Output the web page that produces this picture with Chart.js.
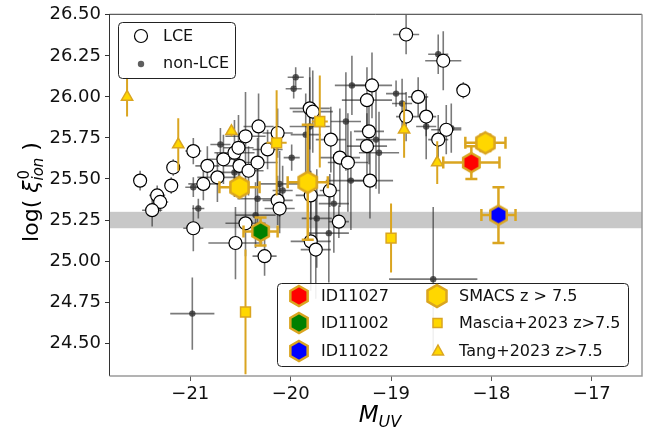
<!DOCTYPE html>
<html>
<head>
<meta charset="utf-8">
<script src="https://cdn.jsdelivr.net/npm/chart.js@4.4.1/dist/chart.umd.min.js"></script>
<style>
  html, body { margin: 0; padding: 0; background: #fff; }
  canvas { display: block; }
</style>
</head>
<body>
<canvas id="chart" width="660" height="428"></canvas>
<script>
// axis ticks
const xTicks = [-21, -20, -19, -18, -17];
const yTicks = [24.5, 24.75, 25.0, 25.25, 25.5, 25.75, 26.0, 26.25, 26.5];
const bandLow = 25.2;
const bandHigh = 25.3;

// LCE (open circles)
const lceM   = [-21.50, -21.33, -21.30, -21.38, -21.19, -21.17, -20.97, -20.97, -20.83, -20.87,
                -20.73, -20.67, -20.56, -20.52, -20.51, -20.42, -20.33, -20.23, -20.13, -20.11,
                -20.45, -20.55, -20.26, -20.32, -20.45, -20.13, -19.60, -19.81, -19.78, -18.85,
                -18.48, -18.28, -19.19, -19.24, -18.73, -18.85, -18.65, -18.45, -19.22, -19.24,
                -19.51, -19.43, -19.21, -18.53, -19.61, -19.52, -19.80, -19.75, -19.80];
const lceLog = [25.49, 25.40, 25.36, 25.31, 25.46, 25.57, 25.67, 25.20, 25.58, 25.47,
                25.51, 25.62, 25.66, 25.69, 25.58, 25.55, 25.60, 25.68, 25.37, 25.32,
                25.23, 25.11, 25.03, 25.82, 25.76, 25.78, 25.74, 25.93, 25.91, 26.38,
                26.22, 26.04, 26.07, 25.98, 26.00, 25.88, 25.88, 25.80, 25.79, 25.70,
                25.63, 25.60, 25.49, 25.74, 25.43, 25.24, 25.12, 25.07, 25.40];
const lceMErr   = [0.05, 0.08, 0.08, 0.10, 0.06, 0.06, 0.08, 0.10, 0.12, 0.15,
                   0.20, 0.15, 0.20, 0.15, 0.15, 0.15, 0.20, 0.15, 0.15, 0.15,
                   0.20, 0.27, 0.12, 0.15, 0.20, 0.15, 0.15, 0.20, 0.20, 0.13,
                   0.18, 0.03, 0.20, 0.25, 0.10, 0.10, 0.10, 0.15, 0.15, 0.20,
                   0.20, 0.20, 0.23, 0.10, 0.10, 0.10, 0.20, 0.15, 0.15];
const lceLogErr = [0.06, 0.06, 0.06, 0.10, 0.05, 0.05, 0.08, 0.14, 0.12, 0.10,
                   0.15, 0.15, 0.20, 0.20, 0.12, 0.15, 0.15, 0.12, 0.15, 0.15,
                   0.20, 0.22, 0.12, 0.20, 0.27, 0.15, 0.20, 0.25, 0.25, 0.12,
                   0.18, 0.05, 0.20, 0.20, 0.12, 0.15, 0.12, 0.15, 0.20, 0.20,
                   0.30, 0.30, 0.23, 0.15, 0.10, 0.10, 0.30, 0.30, 0.15];

// non-LCE (small dark dots)
const nonM   = [-20.70, -20.97, -20.92, -20.56, -20.33, -20.35, -19.99, -20.11, -20.08, -19.95,
                -19.97, -19.81, -19.85, -19.39, -18.95, -18.89, -19.45, -19.15, -19.12, -18.65,
                -18.40, -19.40, -19.57, -19.74, -19.62, -18.58, -18.53, -20.98];
const nonLog = [25.71, 25.45, 25.32, 25.54, 25.38, 25.28, 25.63, 25.47, 25.43, 26.12,
                26.05, 25.82, 25.77, 26.07, 26.02, 25.96, 25.85, 25.74, 25.66, 25.82,
                25.81, 25.49, 25.35, 25.26, 25.17, 24.89, 26.26, 24.68];
const nonMErr   = [0.10, 0.08, 0.06, 0.15, 0.20, 0.20, 0.08, 0.20, 0.10, 0.08,
                   0.08, 0.20, 0.15, 0.17, 0.10, 0.10, 0.15, 0.20, 0.20, 0.10,
                   0.10, 0.25, 0.15, 0.15, 0.20, 0.44, 0.10, 0.22];
const nonLogErr = [0.10, 0.06, 0.06, 0.15, 0.20, 0.20, 0.08, 0.20, 0.15, 0.06,
                   0.06, 0.30, 0.25, 0.18, 0.08, 0.15, 0.30, 0.30, 0.25, 0.20,
                   0.15, 0.30, 0.30, 0.30, 0.30, 0.44, 0.12, 0.22];

// Mascia+2023 z>7.5 (squares)
const masciaM = [-20.14, -19.71, -19.00, -20.45];
const masciaLog = [25.72, 25.85, 25.14, 24.69];
const masciaMErr = [0.10, 0.08, 0, 0];
const masciaLogErr = [0.32, 0.28, 0.21, 0.38];

// Tang+2023 z>7.5 (triangles)
const tangM = [-21.63, -21.12, -20.59, -18.87, -18.54];
const tangLog = [26.00, 25.71, 25.79, 25.80, 25.60];
const tangMErr = [0, 0, 0, 0, 0];
const tangLogErr = [0.12, 0.16, 0.03, 0.17, 0.13];

// SMACS z > 7.5 (gold hexagons)
const smacsM = [-20.51, -19.83, -18.06];
const smacsLog = [25.45, 25.48, 25.72];
const smacsMErr = [0.20, 0.20, 0.20];
const smacsLogErr = [0.04, 0.35, 0.05];

// individual objects
const idNames = ["ID11027", "ID11002", "ID11022"];
const idColors = ["#ff0000", "#008000", "#0000ff"];
const idM = [-18.20, -20.30, -17.93];
const idLog = [25.60, 25.18, 25.28];
const idMErr = [0.28, 0.17, 0.17];
const idLogErr = [0.10, 0.085, 0.17];

const GOLD = "#ffd700";
const EDGE = "#daa520";
const FONT = "DejaVu Sans";

function hexPath(ctx, cx, cy, r) {
  ctx.beginPath();
  for (let k = 0; k < 6; k++) {
    const a = -Math.PI / 2 + k * Math.PI / 3;
    const px = cx + r * Math.cos(a), py = cy + r * Math.sin(a);
    if (k === 0) ctx.moveTo(px, py); else ctx.lineTo(px, py);
  }
  ctx.closePath();
}

function makeHex(fill, r) {
  const c = document.createElement("canvas");
  const s = Math.ceil(2 * r + 6);
  c.width = s; c.height = s;
  const g = c.getContext("2d");
  hexPath(g, s / 2, s / 2, r);
  g.fillStyle = fill; g.fill();
  g.lineWidth = 2.5; g.strokeStyle = EDGE; g.stroke();
  return c;
}

const pts = (xs, ys) => xs.map((v, i) => ({ x: v, y: ys[i] }));

const errorBars = {
  id: "errorBars",
  beforeDatasetsDraw(chart) {
    const { ctx, chartArea: a, scales: { y } } = chart;
    const top = y.getPixelForValue(bandHigh), bot = y.getPixelForValue(bandLow);
    ctx.save();
    ctx.fillStyle = "#c8c8c8";
    ctx.fillRect(a.left, top, a.right - a.left, bot - top);
    ctx.restore();
  },
  beforeDatasetDraw(chart, args) {
    const ds = chart.data.datasets[args.index];
    if (!ds.errX) return;
    const { ctx, chartArea: a, scales: { x, y } } = chart;
    ctx.save();
    ctx.beginPath();
    ctx.rect(a.left, a.top, a.right - a.left, a.bottom - a.top);
    ctx.clip();
    ctx.strokeStyle = ds.errColor;
    ctx.lineWidth = ds.errWidth;
    const cap = ds.cap || 0;
    ds.data.forEach((p, i) => {
      const px = x.getPixelForValue(p.x), py = y.getPixelForValue(p.y);
      const ex = ds.errX[i], ey = ds.errY[i];
      ctx.beginPath();
      if (ex) {
        const l = x.getPixelForValue(p.x - ex), r = x.getPixelForValue(p.x + ex);
        ctx.moveTo(l, py); ctx.lineTo(r, py);
        if (cap) {
          ctx.moveTo(l, py - cap); ctx.lineTo(l, py + cap);
          ctx.moveTo(r, py - cap); ctx.lineTo(r, py + cap);
        }
      }
      if (ey) {
        const t = y.getPixelForValue(p.y + ey), b = y.getPixelForValue(p.y - ey);
        ctx.moveTo(px, t); ctx.lineTo(px, b);
        if (cap) {
          ctx.moveTo(px - cap, t); ctx.lineTo(px + cap, t);
          ctx.moveTo(px - cap, b); ctx.lineTo(px + cap, b);
        }
      }
      ctx.stroke();
    });
    ctx.restore();
  },
};

function roundBox(ctx, x, y, w, h) {
  ctx.beginPath();
  ctx.roundRect(x + 0.5, y + 0.5, w, h, 4);
  ctx.fillStyle = "rgba(255,255,255,0.9)";
  ctx.fill();
  ctx.strokeStyle = "#222";
  ctx.lineWidth = 1;
  ctx.stroke();
}

const decorations = {
  id: "decorations",
  afterDraw(chart) {
    const { ctx, chartArea: a } = chart;
    ctx.save();
    // frame
    ctx.lineWidth = 1;
    ctx.strokeStyle = "#333";
    ctx.beginPath();
    ctx.moveTo(a.left - 0.5, a.bottom); ctx.lineTo(a.left - 0.5, a.top - 0.5); ctx.lineTo(a.right, a.top - 0.5);
    ctx.stroke();
    ctx.strokeStyle = "#9a9a9a";
    ctx.lineWidth = 1.5;
    ctx.beginPath();
    ctx.moveTo(a.right, a.top - 0.5); ctx.lineTo(a.right, a.bottom); ctx.lineTo(a.left - 0.5, a.bottom);
    ctx.stroke();

    // legend: LCE / non-LCE
    roundBox(ctx, 118, 22, 117, 56);
    ctx.beginPath(); ctx.arc(141, 36, 6.5, 0, 2 * Math.PI);
    ctx.fillStyle = "#fff"; ctx.fill(); ctx.strokeStyle = "#000"; ctx.lineWidth = 1.2; ctx.stroke();
    ctx.beginPath(); ctx.arc(141, 64, 3.2, 0, 2 * Math.PI);
    ctx.fillStyle = "rgba(40,40,40,0.75)"; ctx.fill();
    ctx.fillStyle = "#111";
    ctx.font = `16px "${FONT}"`;
    ctx.textBaseline = "middle";
    ctx.textAlign = "left";
    ctx.fillText("LCE", 163, 37);
    ctx.fillText("non-LCE", 163, 64);

    // legend: objects and samples
    roundBox(ctx, 277, 283, 351, 83);
    const rows = [296, 323, 351];
    idNames.forEach((n, i) => {
      hexPath(ctx, 299, rows[i], 10);
      ctx.fillStyle = idColors[i]; ctx.fill();
      ctx.lineWidth = 2.5; ctx.strokeStyle = EDGE; ctx.stroke();
      ctx.fillStyle = "#111";
      ctx.fillText(n, 321, rows[i] + 1);
    });
    hexPath(ctx, 437, rows[0], 11);
    ctx.fillStyle = GOLD; ctx.fill(); ctx.lineWidth = 2.5; ctx.strokeStyle = EDGE; ctx.stroke();
    ctx.fillStyle = GOLD; ctx.lineWidth = 1.5;
    ctx.fillRect(433, rows[1] - 4.5, 9, 9); ctx.strokeRect(433, rows[1] - 4.5, 9, 9);
    ctx.beginPath();
    ctx.moveTo(438, rows[2] - 6); ctx.lineTo(443.5, rows[2] + 4); ctx.lineTo(432.5, rows[2] + 4); ctx.closePath();
    ctx.fill(); ctx.stroke();
    ctx.fillStyle = "#111";
    ctx.fillText("SMACS z > 7.5", 459, rows[0] + 1);
    ctx.fillText("Mascia+2023 z>7.5", 459, rows[1] + 1);
    ctx.fillText("Tang+2023 z>7.5", 459, rows[2] + 1);

    // x title: M_UV
    ctx.textBaseline = "alphabetic";
    ctx.fillStyle = "#000";
    ctx.font = `italic 23px "${FONT}"`;
    const mW = ctx.measureText("M").width;
    ctx.font = `italic 16px "${FONT}"`;
    const uvW = ctx.measureText("UV").width;
    const x0 = (a.left + a.right) / 2 - (mW + uvW) / 2 + 4;
    ctx.font = `italic 23px "${FONT}"`;
    ctx.fillText("M", x0, 422);
    ctx.font = `italic 16px "${FONT}"`;
    ctx.fillText("UV", x0 + mW, 427);

    // y title: log( xi^0_ion )
    ctx.translate(38, 192);
    ctx.rotate(-Math.PI / 2);
    const big = `22px "${FONT}"`, bigI = `italic 22px "${FONT}"`, small = `15px "${FONT}"`, smallI = `italic 15px "${FONT}"`;
    ctx.font = big; const w1 = ctx.measureText("log( ").width;
    ctx.font = bigI; const w2 = ctx.measureText("\u03be").width;
    ctx.font = smallI; const w3 = ctx.measureText("ion").width;
    ctx.font = big; const w4 = ctx.measureText(" )").width;
    let cx = -(w1 + w2 + w3 + w4) / 2;
    ctx.font = big; ctx.fillText("log( ", cx, 0); cx += w1;
    ctx.font = bigI; ctx.fillText("\u03be", cx, 0); cx += w2;
    ctx.font = small; ctx.fillText("0", cx + 1, -9);
    ctx.font = smallI; ctx.fillText("ion", cx, 5); cx += w3;
    ctx.font = big; ctx.fillText(" )", cx, 0);
    ctx.restore();
  },
};

const errGray = "rgba(40,40,40,0.62)";

new Chart(document.getElementById("chart"), {
  type: "scatter",
  data: {
    datasets: [
      {
        label: "non-LCE", data: pts(nonM, nonLog), order: 7,
        pointStyle: "circle", pointRadius: 3.2, borderWidth: 0,
        backgroundColor: "rgba(40,40,40,0.75)",
        errX: nonMErr, errY: nonLogErr, errColor: errGray, errWidth: 1.6,
      },
      {
        label: "LCE", data: pts(lceM, lceLog), order: 6,
        pointStyle: "circle", pointRadius: 6.5, borderWidth: 1.2,
        backgroundColor: "#fff", borderColor: "#000",
        errX: lceMErr, errY: lceLogErr, errColor: errGray, errWidth: 1.6,
      },
      {
        label: "Mascia+2023 z>7.5", data: pts(masciaM, masciaLog), order: 5,
        pointStyle: "rect", pointRadius: 7, borderWidth: 1.5,
        backgroundColor: GOLD, borderColor: EDGE,
        errX: masciaMErr, errY: masciaLogErr, errColor: EDGE, errWidth: 2,
      },
      {
        label: "Tang+2023 z>7.5", data: pts(tangM, tangLog), order: 4,
        pointStyle: "triangle", pointRadius: 6.5, borderWidth: 1.5,
        backgroundColor: GOLD, borderColor: EDGE,
        errX: tangMErr, errY: tangLogErr, errColor: EDGE, errWidth: 2,
      },
      {
        label: "SMACS z > 7.5", data: pts(smacsM, smacsLog), order: 3,
        pointStyle: makeHex(GOLD, 10.5), pointRadius: 11,
        errX: smacsMErr, errY: smacsLogErr, errColor: EDGE, errWidth: 2.5, cap: 6,
      },
      ...idNames.map((n, i) => ({
        label: n, data: [{ x: idM[i], y: idLog[i] }], order: 2 - i,
        pointStyle: makeHex(idColors[i], 9.5), pointRadius: 10,
        errX: [idMErr[i]], errY: [idLogErr[i]], errColor: EDGE, errWidth: 2.5, cap: 6,
      })),
    ],
  },
  options: {
    responsive: false,
    animation: false,
    events: [],
    layout: { padding: { left: 0, top: 14, right: 18, bottom: 0 } },
    plugins: { legend: { display: false }, tooltip: { enabled: false } },
    scales: {
      x: {
        type: "linear", min: -21.8, max: -16.5,
        afterBuildTicks: (s) => { s.ticks = xTicks.map((v) => ({ value: v })); },
        afterFit: (s) => { s.height = 52; },
        border: { display: false },
        grid: { drawOnChartArea: false, drawTicks: true, tickLength: 5, color: "#555", tickWidth: 1 },
        ticks: {
          autoSkip: false, maxRotation: 0, padding: 3, color: "#111",
          font: { family: FONT, size: 18 },
          callback: (v) => (v < 0 ? "\u2212" + Math.abs(v) : String(v)),
        },
      },
      y: {
        type: "linear", min: 24.3, max: 26.5,
        afterBuildTicks: (s) => { s.ticks = yTicks.map((v) => ({ value: v })); },
        afterFit: (s) => { s.width = 110; },
        border: { display: false },
        grid: { drawOnChartArea: false, drawTicks: true, tickLength: 5, color: "#333", tickWidth: 1 },
        ticks: {
          autoSkip: false, padding: 4, color: "#111",
          font: { family: FONT, size: 18 },
          callback: (v) => Number(v).toFixed(2),
        },
      },
    },
  },
  plugins: [errorBars, decorations],
});
</script>
</body>
</html>
